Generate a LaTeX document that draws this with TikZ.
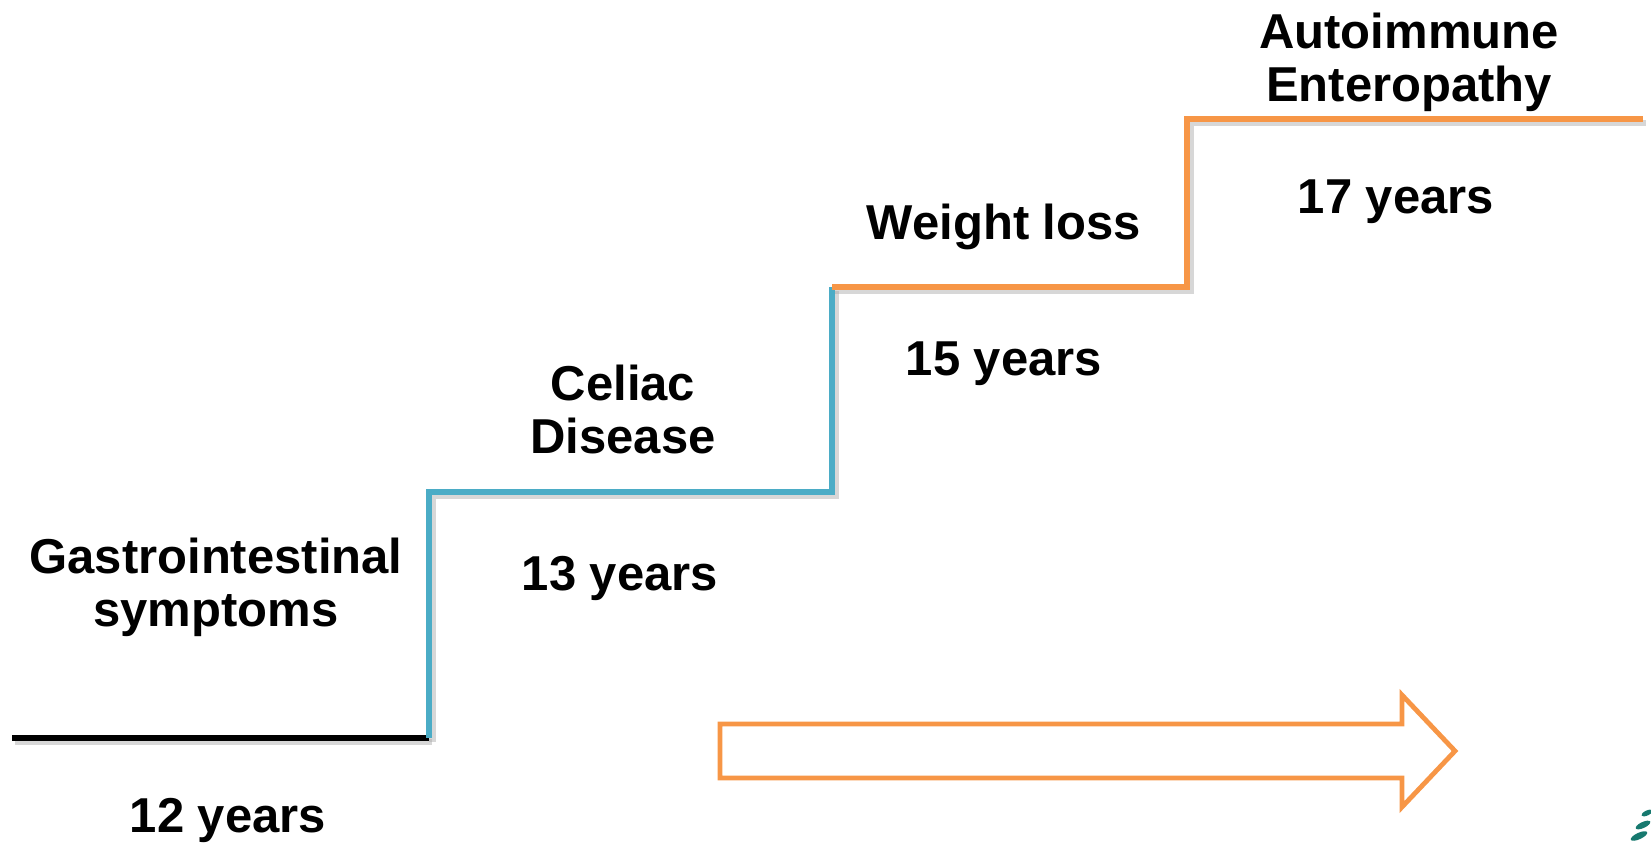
\documentclass[tikz,border=0pt]{standalone}
\usepackage{fontspec}
\setmainfont{Liberation Sans}
\usepackage{xcolor}
\definecolor{stairblue}{HTML}{4BACC6}
\definecolor{stairorange}{HTML}{F79646}
\definecolor{leafteal}{HTML}{17796F}

\begin{document}
\begin{tikzpicture}[x=0.5pt,y=-0.5pt,
        stage/.style={font=\fontsize{24.5}{26.5}\selectfont\bfseries,align=center,inner sep=0pt},
        stair/.style={line width=3.3pt,line join=miter,
            preaction={draw=black!35,opacity=0.45,line width=3.3pt,transform canvas={shift={(1.6pt,-2pt)}}}}]
                \useasboundingbox (0,0) rectangle (1651,842);
                \coordinate (s0) at (12,738);
                \coordinate (s1) at (429,738);
                \coordinate (s2) at (429,492);
                \coordinate (s3) at (832,492);
                \coordinate (s4) at (832,287);
                \coordinate (s5) at (1187,287);
                \coordinate (s6) at (1187,119);
                \coordinate (s7) at (1643,119);
                \draw[stair,black] (s0) -- (s1);
                \draw[stair,stairblue] (s1) -- (s2) -- (s3) -- (s4);
                \draw[stair,stairorange] (s4) -- (s5) -- (s6) -- (s7);
                \node[stage,anchor=north] (gi) at (216,538) {Gastrointestinal\\symptoms};
                \node[stage,anchor=base] (y12) at (228,832) {12 years};
                \node[stage,anchor=north] (cd) at (623,365) {Celiac\\Disease};
                \node[stage,anchor=base] (y13) at (620,590) {13 years};
                \node[stage,anchor=base] (wl) at (1004,239) {Weight loss};
                \node[stage,anchor=base] (y15) at (1004,375) {15 years};
                \node[stage,anchor=north] (ae) at (1409,13) {Autoimmune\\Enteropathy};
                \node[stage,anchor=base] (y17) at (1396,213) {17 years};
                \draw[stairorange,line width=2.4pt,line join=miter]
                    (720,724) -- (1402,724) -- (1402,695) -- (1455,751) -- (1402,807) -- (1402,778) -- (720,778) -- cycle;
                \fill[leafteal,rotate around={25:(1647,813)}] (1647,813) ellipse (6 and 2.5);
                \fill[leafteal,rotate around={25:(1643,825)}] (1643,825) ellipse (8 and 3);
                \fill[leafteal,rotate around={25:(1639,836)}] (1639,836) ellipse (9 and 3.2);
            \end{tikzpicture}
\end{document}
